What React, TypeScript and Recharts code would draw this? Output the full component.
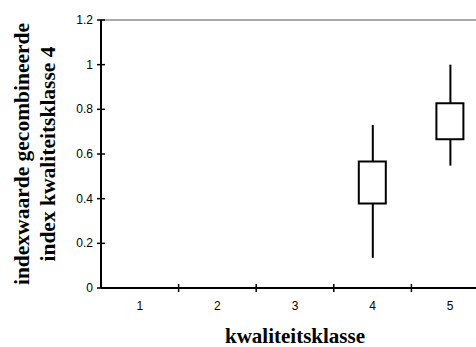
import { ComposedChart, Bar, XAxis, YAxis, ReferenceLine, Label } from "recharts";

// box plot per kwaliteitsklasse (klasse 1-3 have no data)
const CLASSES = ["1", "2", "3", "4", "5"];
const WHISKER_LOW = [null, null, null, 0.135, 0.548];
const BOX_LOW = [null, null, null, 0.378, 0.666];
const BOX_HIGH = [null, null, null, 0.566, 0.827];
const WHISKER_HIGH = [null, null, null, 0.73, 1.0];
const Y_TICKS = [0, 0.2, 0.4, 0.6, 0.8, 1, 1.2];

const data = CLASSES.map((cls, i) => ({
  cls,
  whisker: WHISKER_LOW[i] == null ? undefined : [WHISKER_LOW[i], WHISKER_HIGH[i]],
  box: BOX_LOW[i] == null ? undefined : [BOX_LOW[i], BOX_HIGH[i]],
}));

const TICK_FONT = { fontFamily: "'Liberation Sans', Arial, sans-serif", fontSize: 12, fill: "#000" };
const TITLE_FONT = "'Liberation Serif', 'Times New Roman', serif";

function YTick({ x, y, payload }: any) {
  const axisX = x + 8;
  return (
    <g>
      <line x1={axisX - 4} x2={axisX + 4} y1={y} y2={y} stroke="#000" strokeWidth={1.5} />
      <text x={x} y={y} dy={4} textAnchor="end" {...TICK_FONT}>
        {payload.value}
      </text>
    </g>
  );
}

function XTick({ x, y, payload, index }: any) {
  const axisY = y - 4;
  const half = payload.offset ?? 38.8;
  return (
    <g>
      {index < CLASSES.length - 1 && (
        <line x1={x + half} x2={x + half} y1={axisY - 4} y2={axisY + 4} stroke="#000" strokeWidth={1.5} />
      )}
      <text x={x} y={axisY + 22} textAnchor="middle" {...TICK_FONT}>
        {payload.value}
      </text>
    </g>
  );
}

function YTitle() {
  const cy = 154;
  const lines = [
    { x: 28.5, text: "indexwaarde gecombineerde" },
    { x: 55, text: "index kwaliteitsklasse 4" },
  ];
  return (
    <g>
      {lines.map((l) => (
        <text
          key={l.text}
          x={l.x}
          y={cy}
          transform={`rotate(-90, ${l.x}, ${cy})`}
          textAnchor="middle"
          fontFamily={TITLE_FONT}
          fontWeight="bold"
          fontSize={21.5}
          fill="#000"
        >
          {l.text}
        </text>
      ))}
    </g>
  );
}

export default function App() {
  return (
    <div style={{ position: "fixed", left: 0, top: 0, width: 476, height: 347, overflow: "hidden", background: "#fff" }}>
      <ComposedChart width={490} height={347} data={data} margin={{ top: 20, right: 1, left: 41, bottom: 29 }}>
        <XAxis
          dataKey="cls"
          height={30}
          axisLine={{ stroke: "#000", strokeWidth: 2 }}
          tickLine={{ stroke: "none" }}
          tickSize={4}
          tickMargin={0}
          tick={<XTick />}
          interval={0}
        >
          <Label
            content={() => (
              <text x={295} y={342.5} textAnchor="middle" fontFamily={TITLE_FONT} fontWeight="bold" fontSize={21} fill="#000">
                kwaliteitsklasse
              </text>
            )}
          />
        </XAxis>
        <XAxis xAxisId="whisk" dataKey="cls" hide />
        <YAxis
          width={60}
          domain={[0, 1.2]}
          ticks={Y_TICKS}
          axisLine={{ stroke: "#000", strokeWidth: 2 }}
          tickLine={{ stroke: "none" }}
          tickSize={4}
          tickMargin={4}
          tick={<YTick />}
          interval={0}
        >
          <Label content={() => <YTitle />} />
        </YAxis>
        <ReferenceLine y={1.2} stroke="#8c8c8c" strokeWidth={1.5} />
        <Bar xAxisId="whisk" dataKey="whisker" barSize={2} fill="#000" isAnimationActive={false} />
        <Bar dataKey="box" barSize={27} fill="#fff" stroke="#000" strokeWidth={2} isAnimationActive={false} />
      </ComposedChart>
    </div>
  );
}
